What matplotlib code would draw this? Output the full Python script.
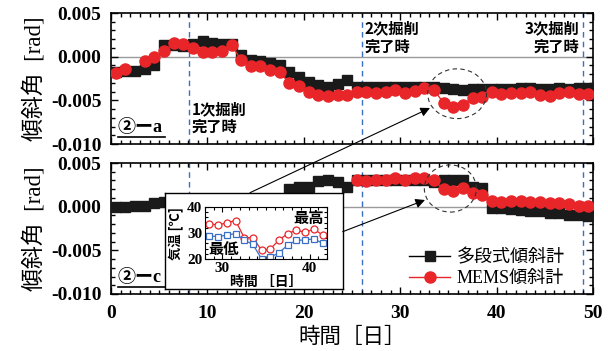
import numpy as np
import matplotlib
matplotlib.use("Agg")
from matplotlib import pyplot as plt
from matplotlib.patches import Ellipse, FancyArrowPatch
from matplotlib.ticker import MultipleLocator, FormatStrFormatter

# days (measured once a day, mid-day)
days = np.arange(0.5, 50, 1.0)

# ②-a  tilt angle [x1e-3 rad]
a_multi = [-1.8, -1.6, -1.6, -1.45, -0.95, 1.3, 1.35, 1.25, 1.45, 1.75,
           1.55, 1.45, 1.45, 0.2, -0.4, -0.5, -0.75, -0.9, -1.75, -2.35,
           -2.85, -3.25, -3.45, -3.15, -2.65, -3.5, -3.5, -3.5, -3.45, -3.5,
           -3.5, -3.45, -3.5, -3.5, -3.6, -3.65, -3.8, -3.7, -3.7, -3.65,
           -3.7, -3.65, -3.6, -3.6, -3.65, -3.65, -3.6, -3.7, -3.6, -3.55]
a_mems = [-1.85, -1.45, np.nan, -0.5, -0.05, 0.6, 1.55, 1.45, 1.0, 0.5,
          0.5, 0.6, 1.3, -0.35, -1.1, -1.1, -1.5, -1.75, -3.05, -3.3,
          -4.1, -4.4, -4.45, -4.4, -4.35, -4.1, -4.1, -4.15, -4.1, -3.85,
          -4.15, -3.9, -3.55, -3.8, -5.3, -5.75, -5.5, -4.7, -4.6, -4.1,
          -4.25, -4.15, -4.15, -4.1, -4.35, -4.45, -4.2, -4.1, -4.3, -4.25]

# ②-c
n = np.nan
c_multi = [-0.05, -0.05, 0.1, 0.1, 0.4, 0.5, n, n, n, n,
           n, n, n, n, n, n, n, n, 2.0, 2.2,
           2.3, 2.95, 3.1, 2.85, 2.3, 3.0, 3.0, 3.0, 3.0, 3.05,
           3.05, 3.1, 3.0, 2.8, 3.05, 3.0, 3.05, 2.3, 2.1, -0.1,
           -0.2, -0.3, -0.35, -0.55, -0.55, -0.7, -0.75, -0.95, -0.95, -1.05]
c_mems = [n] * 25 + [3.1, 2.95, 3.05, 3.05, 3.25, 3.0, 3.25, 3.25, 3.0, 2.0,
                     1.85, 2.1, 1.6, 1.35, 0.7, 0.55, 0.7, 0.6, 0.55, 0.55,
                     0.4, 0.4, 0.3, 0.1, 0.1]

# excavation completion days
excav_days = [8.1, 26, 49]

# air temperature (inset)
t_days = np.arange(28.5, 42, 1.0)
t_max = [33.5, 33.1, 33.9, 34.8, 28.2, 28.2, 23.3, 23.9, 27.3, 29.8, 31.1, 30.2, 31.5, 29.2]
t_min = [28.9, 28.6, 29.2, 29.8, 27.3, 25.6, 20.0, 20.7, 22.4, 25.4, 27.2, 27.3, 27.8, 26.0]

RED = '#e8262a'
BLUE = '#3a6fc4'
LATIN_JP = ['Liberation Serif', 'Noto Sans CJK JP']
JP = ['Noto Sans CJK JP', 'DejaVu Sans']

fig = plt.figure(figsize=(6.08, 3.51), dpi=100)
ax1 = fig.add_axes([0.1826, 0.5897, 0.7928, 0.3732])
ax2 = fig.add_axes([0.1826, 0.1624, 0.7928, 0.3732])


def style_main(ax):
    ax.set_xlim(0, 50)
    ax.set_ylim(-0.010, 0.005)
    ax.xaxis.set_major_locator(MultipleLocator(10))
    ax.xaxis.set_minor_locator(MultipleLocator(1))
    ax.yaxis.set_major_locator(MultipleLocator(0.005))
    ax.yaxis.set_minor_locator(MultipleLocator(0.001))
    ax.yaxis.set_major_formatter(FormatStrFormatter('%.3f'))
    ax.tick_params(which='both', direction='in', top=True, right=True, width=1)
    ax.tick_params(which='major', length=5)
    ax.tick_params(which='minor', length=3)
    ax.tick_params(axis='x', pad=8)
    ax.tick_params(axis='y', pad=7)
    for lab in ax.get_xticklabels() + ax.get_yticklabels():
        lab.set_fontfamily('Liberation Serif')
        lab.set_fontweight('bold')
        lab.set_fontsize(14)
    for s in ax.spines.values():
        s.set_linewidth(1.2)
    ax.axhline(0, color='#9a9a9a', lw=1, zorder=1)
    for d in excav_days:
        ax.axvline(d, color=BLUE, lw=1, ls=(0, (4, 3)), zorder=1)
    ax.set_ylabel('傾斜角  [rad]', family=LATIN_JP, fontsize=16.5, labelpad=4)


def draw_series(ax, multi, mems):
    ax.plot(days, np.array(multi) * 1e-3, color='k', lw=1, marker='s', ms=7.8,
            mfc='#1a1a1a', mec='#1a1a1a', label='多段式傾斜計', zorder=3)
    ax.plot(days, np.array(mems) * 1e-3, color=RED, lw=1, marker='o', ms=8,
            mfc=RED, mec=RED, label='MEMS傾斜計', zorder=4)


style_main(ax1)
style_main(ax2)
ax1.set_xticklabels([])
draw_series(ax1, a_multi, a_mems)
draw_series(ax2, c_multi, c_mems)

ax2.set_xlabel('時間［日］', family=JP, fontsize=15.5, labelpad=3)

# panel tags
for ax, tag in [(ax1, '②ーa'), (ax2, '②ーc')]:
    ax.text(0.014, 0.125, tag, transform=ax.transAxes, family=LATIN_JP,
            fontsize=13, fontweight='bold', va='center', ha='left')
    ax.plot([0.014, 0.112], [0.05, 0.05], transform=ax.transAxes,
            color='k', lw=1.2, clip_on=False)

# excavation notes
note_kw = dict(family=JP, fontsize=11, fontweight='bold', va='center',
               linespacing=1.15)
ax1.text(8.4, -0.00705, '1次掘削\n完了時', ha='left', **note_kw)
ax1.text(26.3, 0.0022, '2次掘削\n完了時', ha='left', **note_kw)
ax1.text(48.6, 0.0022, '3次掘削\n完了時', ha='right', **note_kw)

# dashed circles around the MEMS deviation
ax1.add_patch(Ellipse((35.9, -0.00424), 6.1, 0.0057, fill=False, ec='#333333',
                      lw=0.8, ls=(0, (4, 3)), zorder=5))
ax2.add_patch(Ellipse((35.2, 0.00208), 5.4, 0.0054, fill=False, ec='#333333',
                      lw=0.8, ls=(0, (4, 3)), zorder=5, clip_on=False))

leg = ax2.legend(loc='lower right', bbox_to_anchor=(0.975, -0.07), frameon=False,
                 prop={'family': LATIN_JP, 'size': 13}, handlelength=2.3,
                 handletextpad=0.35, labelspacing=0.2)

# inset: air temperature
box = fig.add_axes([165 / 608, 1 - 289 / 351, 178 / 608, 96 / 351])
box.set_xticks([])
box.set_yticks([])
box.set_facecolor('white')
for s in box.spines.values():
    s.set_linewidth(1)

axi = fig.add_axes([205 / 608, 1 - 259 / 351, 122 / 608, 52 / 351])
axi.plot(t_days, t_max, color=RED, lw=0.9, marker='o', ms=5, mfc='white', mec=RED, mew=0.9)
axi.plot(t_days, t_min, color=BLUE, lw=0.9, marker='s', ms=4.6, mfc='white', mec=BLUE, mew=0.9)
axi.set_xlim(28, 42)
axi.set_ylim(20, 40)
axi.xaxis.set_major_locator(MultipleLocator(10))
axi.xaxis.set_minor_locator(MultipleLocator(1))
axi.yaxis.set_major_locator(MultipleLocator(10))
axi.yaxis.set_minor_locator(MultipleLocator(2))
axi.tick_params(which='both', direction='in', top=True, right=True, width=0.8, pad=2)
axi.tick_params(which='major', length=3.5)
axi.tick_params(which='minor', length=2)
for lab in axi.get_xticklabels() + axi.get_yticklabels():
    lab.set_fontfamily('Liberation Serif')
    lab.set_fontweight('bold')
    lab.set_fontsize(11)
axi.set_ylabel('気温 [℃]', family=JP, fontsize=9.5, fontweight='bold', labelpad=2)
axi.set_xlabel('時間 ［日］', family=JP, fontsize=10, fontweight='bold', labelpad=0)
axi.text(0.85, 0.79, '最高', transform=axi.transAxes, family=JP, fontsize=11,
         fontweight='bold', ha='center', va='center')
axi.text(0.15, 0.2, '最低', transform=axi.transAxes, family=JP, fontsize=11,
         fontweight='bold', ha='center', va='center')

# arrows from the inset to the circled areas
arrow_kw = dict(transform=fig.transFigure, arrowstyle='-|>', mutation_scale=14,
                lw=0.8, color='k', shrinkA=0, shrinkB=0)
fig.add_artist(FancyArrowPatch((250 / 608, 1 - 192.7 / 351), (430 / 608, 1 - 108 / 351), **arrow_kw))
fig.add_artist(FancyArrowPatch((342.7 / 608, 1 - 231.7 / 351), (425 / 608, 1 - 200 / 351), **arrow_kw))

fig.savefig('out.png', dpi=100)
